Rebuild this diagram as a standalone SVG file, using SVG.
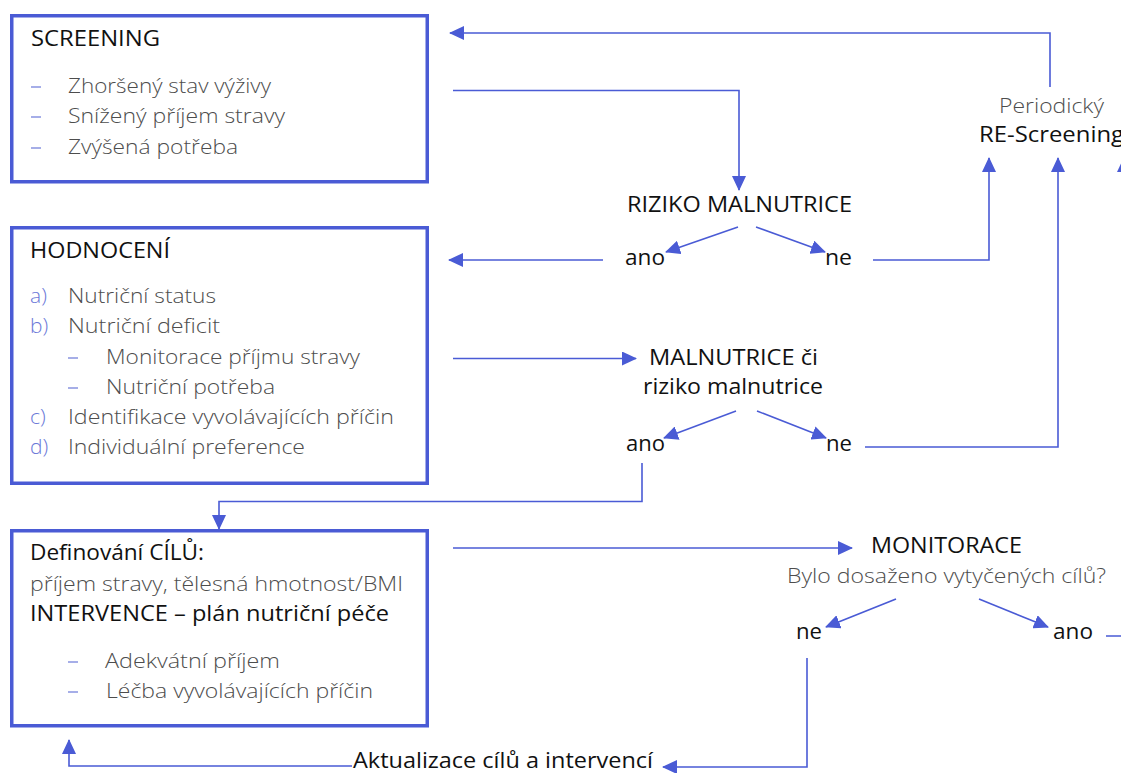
<svg xmlns="http://www.w3.org/2000/svg" width="1121" height="773" viewBox="0 0 1121 773">
<defs>
<marker id="ah" viewBox="0 0 15 14" markerWidth="15" markerHeight="14" refX="14" refY="7" orient="auto" markerUnits="userSpaceOnUse">
<path d="M0,0 L15,7 L0,14 z" fill="#4a5bd5"/>
</marker>
<style>
.box{fill:#fff;stroke:#4a5bd5;stroke-width:3.5}
.ln{fill:none;stroke:#4a5bd5;stroke-width:1.6}
.arr{fill:none;stroke:#4a5bd5;stroke-width:1.6;marker-end:url(#ah)}
text{font-family:"Open Sans","Liberation Sans",sans-serif;font-size:21px}
.h{fill:#111;font-weight:400}
.t{fill:#4d4d4d;font-weight:300}
.d{fill:#6b78d8;font-weight:300}
.dash{stroke:#6b78d8;stroke-width:1.2}
</style>
</defs>
<rect width="1121" height="773" fill="#fff"/>

<g id="connectors">
<path class="arr" d="M1050,87 V33 H450"/>
<path class="arr" d="M453,90.5 H739 V190"/>
<path class="arr" d="M738,227 L666,252"/>
<path class="arr" d="M756,227 L825,252"/>
<path class="arr" d="M603,260 H449"/>
<path class="arr" d="M873,260 H989 V158"/>
<path class="arr" d="M453,358.5 H636"/>
<path class="arr" d="M736,411 L664,438"/>
<path class="arr" d="M757,411 L826,438"/>
<path class="arr" d="M865,447 H1058 V158"/>
<path class="arr" d="M642,463 V501.5 H219 V529"/>
<path class="arr" d="M453,548 H852"/>
<path class="arr" d="M896,599 L826,627"/>
<path class="arr" d="M979,599 L1048,627"/>
<path class="arr" d="M1106,636 H1124 V158"/>
<path class="arr" d="M807,658 V767 H663"/>
<path class="arr" d="M352,766 H69 V740"/>
</g>

<g id="screening">
<rect class="box" x="11.75" y="15.75" width="415.5" height="166"/>
<text class="h" x="31" y="46" textLength="129" lengthAdjust="spacingAndGlyphs">SCREENING</text>
<line class="dash" x1="31" y1="87" x2="41" y2="87"/>
<line class="dash" x1="31" y1="117" x2="41" y2="117"/>
<line class="dash" x1="31" y1="148" x2="41" y2="148"/>
<text class="t" x="68" y="93" textLength="203" lengthAdjust="spacingAndGlyphs">Zhoršený stav výživy</text>
<text class="t" x="68" y="123" textLength="217" lengthAdjust="spacingAndGlyphs">Snížený příjem stravy</text>
<text class="t" x="68" y="154" textLength="170" lengthAdjust="spacingAndGlyphs">Zvýšená potřeba</text>
</g>

<g id="hodnoceni">
<rect class="box" x="11.75" y="227.75" width="415.5" height="255.5"/>
<text class="h" x="30" y="258" textLength="140" lengthAdjust="spacingAndGlyphs">HODNOCENÍ</text>
<text class="d" x="30" y="303">a)</text>
<text class="t" x="68" y="303" textLength="148" lengthAdjust="spacingAndGlyphs">Nutriční status</text>
<text class="d" x="30" y="333">b)</text>
<text class="t" x="68" y="333" textLength="152" lengthAdjust="spacingAndGlyphs">Nutriční deficit</text>
<line class="dash" x1="68" y1="358" x2="78" y2="358"/>
<text class="t" x="106" y="364" textLength="254" lengthAdjust="spacingAndGlyphs">Monitorace příjmu stravy</text>
<line class="dash" x1="68" y1="388" x2="78" y2="388"/>
<text class="t" x="106" y="394" textLength="169" lengthAdjust="spacingAndGlyphs">Nutriční potřeba</text>
<text class="d" x="30" y="424">c)</text>
<text class="t" x="68" y="424" textLength="326" lengthAdjust="spacingAndGlyphs">Identifikace vyvolávajících příčin</text>
<text class="d" x="30" y="454">d)</text>
<text class="t" x="68" y="454" textLength="237" lengthAdjust="spacingAndGlyphs">Individuální preference</text>
</g>

<g id="cile">
<rect class="box" x="11.75" y="530.75" width="415.5" height="195"/>
<text class="h" x="30" y="560" textLength="174" lengthAdjust="spacingAndGlyphs" style="font-weight:500">Definování CÍLŮ:</text>
<text class="t" x="30" y="591" textLength="373" lengthAdjust="spacingAndGlyphs">příjem stravy, tělesná hmotnost/BMI</text>
<text class="h" x="30" y="621" textLength="359" lengthAdjust="spacingAndGlyphs">INTERVENCE – plán nutriční péče</text>
<line class="dash" x1="68" y1="662" x2="78" y2="662"/>
<text class="t" x="105" y="668" textLength="175" lengthAdjust="spacingAndGlyphs">Adekvátní příjem</text>
<line class="dash" x1="68" y1="692" x2="78" y2="692"/>
<text class="t" x="106" y="698" textLength="267" lengthAdjust="spacingAndGlyphs">Léčba vyvolávajících příčin</text>
</g>

<g id="riziko">
<text class="h" x="627" y="212" textLength="225" lengthAdjust="spacingAndGlyphs">RIZIKO MALNUTRICE</text>
</g>
<g id="riziko-ano"><text class="h" x="625" y="265" textLength="40" lengthAdjust="spacingAndGlyphs">ano</text></g>
<g id="riziko-ne"><text class="h" x="825" y="265" textLength="27" lengthAdjust="spacingAndGlyphs">ne</text></g>

<g id="rescreening">
<text class="t" x="999" y="113" textLength="105" lengthAdjust="spacingAndGlyphs">Periodický</text>
<text class="h" x="979" y="142" textLength="145" lengthAdjust="spacingAndGlyphs">RE-Screening</text>
</g>

<g id="malnutrice">
<text class="h" x="649" y="365" textLength="169" lengthAdjust="spacingAndGlyphs">MALNUTRICE či</text>
<text class="h" x="643" y="394" textLength="180" lengthAdjust="spacingAndGlyphs">riziko malnutrice</text>
</g>
<g id="malnutrice-ano"><text class="h" x="626" y="451" textLength="39" lengthAdjust="spacingAndGlyphs">ano</text></g>
<g id="malnutrice-ne"><text class="h" x="826" y="451" textLength="26" lengthAdjust="spacingAndGlyphs">ne</text></g>

<g id="monitorace">
<text class="h" x="871" y="553" textLength="151" lengthAdjust="spacingAndGlyphs">MONITORACE</text>
<text class="t" x="787" y="583" textLength="319" lengthAdjust="spacingAndGlyphs">Bylo dosaženo vytyčených cílů?</text>
</g>
<g id="monitorace-ne"><text class="h" x="796" y="639" textLength="26" lengthAdjust="spacingAndGlyphs">ne</text></g>
<g id="monitorace-ano"><text class="h" x="1053" y="639" textLength="40" lengthAdjust="spacingAndGlyphs">ano</text></g>

<g id="aktualizace">
<text class="h" x="353" y="768" textLength="300" lengthAdjust="spacingAndGlyphs">Aktualizace cílů a intervencí</text>
</g>
</svg>
